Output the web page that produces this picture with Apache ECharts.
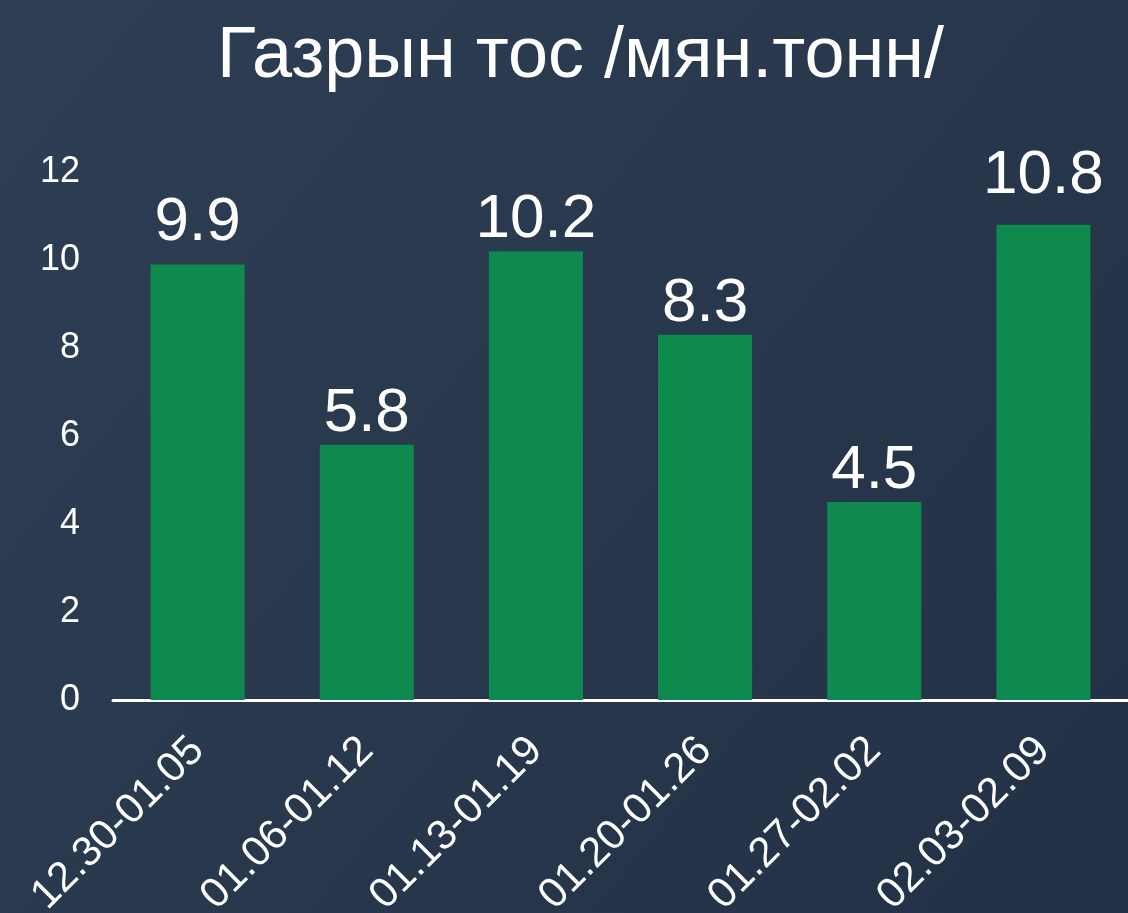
<!DOCTYPE html>
<html>
<head>
<meta charset="utf-8">
<script src="https://cdn.jsdelivr.net/npm/echarts@6/dist/echarts.min.js"></script>
<style>
  html, body { margin: 0; padding: 0; }
  #main { width: 1128px; height: 913px; }
</style>
</head>
<body>
<div id="main"></div>
<script>
// data
const weeks = ['12.30-01.05', '01.06-01.12', '01.13-01.19', '01.20-01.26', '01.27-02.02', '02.03-02.09'];
const oilValues = [9.9, 5.8, 10.2, 8.3, 4.5, 10.8];
const titleText = 'Газрын тос /мян.тонн/';

// label gap above each bar (the original lifts a couple of them higher)
const labelGap = [10, 0, 0, 0, 0, 18];

const font = '"Liberation Sans", Arial, sans-serif';
const chart = echarts.init(document.getElementById('main'));

chart.setOption({
  backgroundColor: {
    type: 'linear', x: 0, y: 0, x2: 1, y2: 1,
    colorStops: [
      { offset: 0, color: '#2e3e54' },
      { offset: 1, color: '#223145' }
    ]
  },
  title: {
    text: titleText,
    left: 212,
    top: 16,
    textStyle: { color: '#fff', fontSize: 72, fontWeight: 'normal', fontFamily: font }
  },
  // labels run off the bottom edge in the original, so don't let the grid shrink
  grid: { left: 113, right: 0, top: 172, bottom: 213, outerBoundsMode: 'none' },
  xAxis: {
    type: 'category',
    data: weeks,
    axisLine: { lineStyle: { color: '#fff', width: 3 } },
    axisTick: { show: false },
    axisLabel: { color: '#fff', fontSize: 42, fontFamily: font, rotate: 45, margin: 44, interval: 0 }
  },
  yAxis: {
    type: 'value',
    min: 0, max: 12, interval: 2,
    splitLine: { show: false },
    axisLine: { show: false },
    axisTick: { show: false },
    axisLabel: { color: '#fff', fontSize: 36, fontFamily: font, margin: 33 }
  },
  series: [{
    type: 'bar',
    data: oilValues.map((v, i) => ({ value: v, label: { distance: labelGap[i] } })),
    barWidth: '55.6%',
    itemStyle: { color: '#0e8a4e' },
    label: {
      show: true,
      position: 'top',
      distance: 0,
      color: '#fff',
      fontSize: 62,
      fontFamily: font
    }
  }]
});
</script>
</body>
</html>
